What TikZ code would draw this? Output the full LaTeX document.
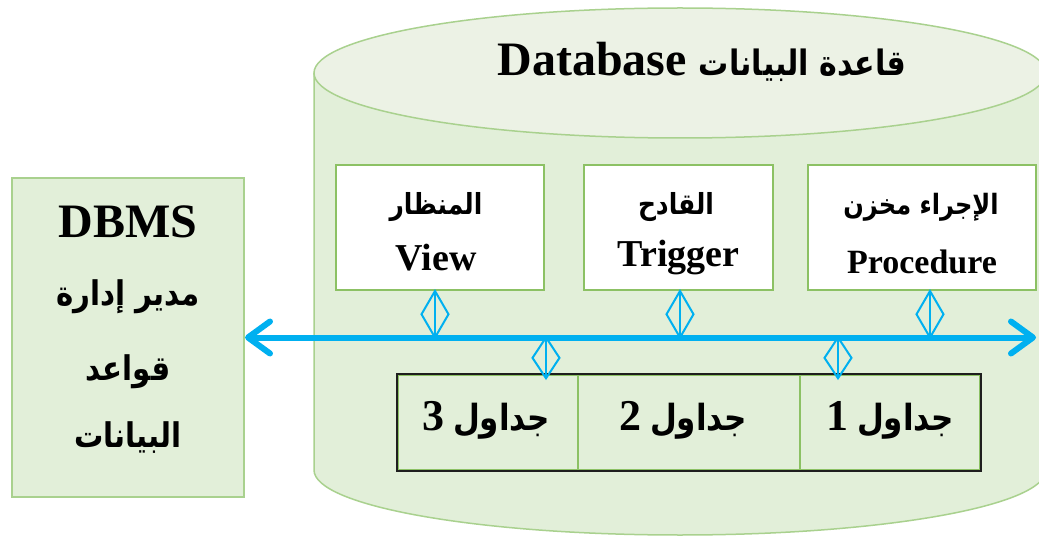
\documentclass[tikz,border=0pt]{standalone}
\usepackage{fontspec}
\setmainfont{Liberation Serif}
\newfontfamily\arabicfont[Script=Arabic]{DejaVu Sans}
\TeXXeTstate=1
\usetikzlibrary{arrows.meta,calc}

\definecolor{dbfill}{RGB}{226,239,217}
\definecolor{dbtop}{RGB}{236,242,229}
\definecolor{dbline}{RGB}{169,209,142}
\definecolor{boxline}{RGB}{140,193,100}
\definecolor{busblue}{RGB}{0,176,240}
\definecolor{cellline}{RGB}{30,30,30}

% Arabic run, right to left, set a little narrow
\newcommand{\artext}[1]{\scalebox{0.86}[1]{\arabicfont\bfseries\beginR #1\endR}}
% bold serif digits next to Arabic words
\newcommand{\numtext}[1]{{\bfseries\fontsize{44}{44}\selectfont #1}}
% vertical link with a diamond between two points
\newcommand{\diamondlink}[2]{%
  \draw[link] (#1) -- (#2);
  \draw[link] (#1) -- ($($(#1)!0.5!(#2)$)+(13.5,0)$) -- (#2)
              -- ($($(#1)!0.5!(#2)$)+(-13.5,0)$) -- cycle;}

\begin{document}
\begin{tikzpicture}[x=1pt,y=-1pt,
  objbox/.style={draw=boxline, line width=2pt, fill=white, minimum height=125pt, inner sep=0pt},
  dbmsbox/.style={draw=dbline, line width=2pt, fill=dbfill, minimum width=232pt, minimum height=319pt, inner sep=0pt},
  cellbox/.style={draw=boxline, line width=1.5pt, minimum height=95pt, inner sep=0pt},
  lat/.style={font=\bfseries\fontsize{#1}{#1}\selectfont, inner sep=0pt},
  arab/.style={font=\fontsize{#1}{#1}\selectfont, inner sep=0pt},
  link/.style={draw=busblue, line width=2pt, line join=miter},
  bus/.style={draw=busblue, line width=6pt,
    {Straight Barb[length=22pt,width=32pt,round]}-{Straight Barb[length=22pt,width=32pt,round]}}
]
\useasboundingbox (0,0) rectangle (1039,540);
\clip (0,0) rectangle (1039,540);
\fill[white] (0,0) rectangle (1039,540);

% database cylinder
\draw[dbline, line width=1.5pt, fill=dbfill]
  (314,73) -- (314,470) arc[start angle=180, end angle=0, x radius=366, y radius=65] -- (1046,73);
\draw[dbline, line width=1.5pt, fill=dbtop] (680,73) ellipse [x radius=366, y radius=65];
\node[lat=48] (title) at (702,62) {Database {\fontsize{35}{35}\selectfont\artext{قاعدة البيانات}}};

% management system box
\node[dbmsbox] (dbms) at (128,337.5) {};
\node[lat=48] (dbmsname) at (128,222) {DBMS};
\node[arab=34] (dbms1) at (128,297) {\artext{مدير إدارة}};
\node[arab=34] (dbms2) at (128,372) {\artext{قواعد}};
\node[arab=34] (dbms3) at (128,438) {\artext{البيانات}};

% objects stored in the database
\node[objbox, minimum width=208pt] (view) at (440,227.5) {};
\node[arab=29] (viewar) at (436,207) {\artext{المنظار}};
\node[lat=38] (viewen) at (436,258) {View};

\node[objbox, minimum width=189pt] (trigger) at (678.5,227.5) {};
\node[arab=29] (trigar) at (676,207) {\artext{القادح}};
\node[lat=38] (trigen) at (678.5,258) {Trigger};

\node[objbox, minimum width=228pt] (proc) at (922,227.5) {};
\node[arab=28] (procar) at (921,207) {\artext{الإجراء مخزن}};
\node[lat=34] (procen) at (922,262) {Procedure};

% tables
\node[cellbox, minimum width=180pt] (t3) at (488,422.5) {};
\node[cellbox, minimum width=222pt] (t2) at (689,422.5) {};
\node[cellbox, minimum width=180pt] (t1) at (890,422.5) {};
\draw[cellline, line width=2pt] (t3.north west) rectangle (t1.south east);
\node[arab=36] (t3text) at (486,420) {\numtext{3} \artext{جداول}};
\node[arab=36] (t2text) at (683,420) {\numtext{2} \artext{جداول}};
\node[arab=36] (t1text) at (890,420) {\numtext{1} \artext{جداول}};

% bus between the system and the database
\coordinate (busR) at (1036,337.5);
\draw[bus] (dbms.east) -- (busR);

% links from the objects and tables to the bus
\coordinate (dv) at ([xshift=-5pt]view.south);
\coordinate (dg) at ([xshift=1.5pt]trigger.south);
\coordinate (dp) at ([xshift=8pt]proc.south);
\coordinate (d3) at ([xshift=58pt,yshift=-4pt]t3.north);
\coordinate (d1) at ([xshift=-52pt,yshift=-4pt]t1.north);
\diamondlink{dv}{dv |- busR}
\diamondlink{dg}{dg |- busR}
\diamondlink{dp}{dp |- busR}
\diamondlink{d3 |- busR}{d3}
\diamondlink{d1 |- busR}{d1}
\end{tikzpicture}
\end{document}
